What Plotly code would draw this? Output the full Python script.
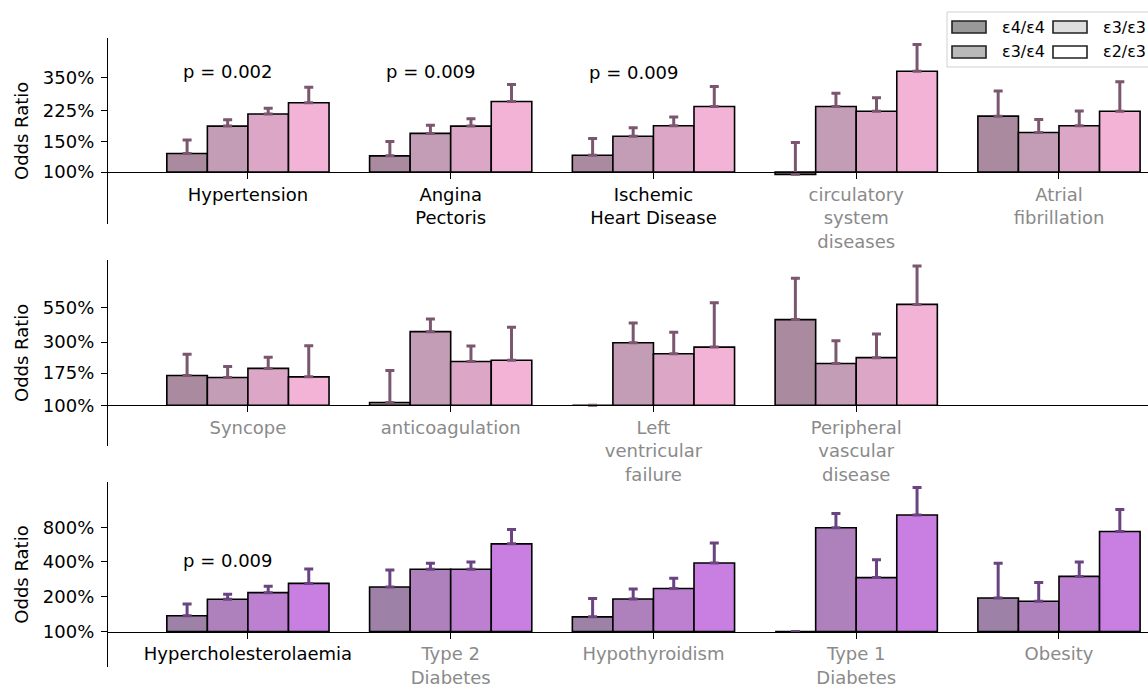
import numpy as np
import plotly.graph_objects as go

# ---------------- data ----------------
genotypes = ["ε4/ε4", "ε3/ε4", "ε3/ε3", "ε2/ε3"]

cats1 = ["Hypertension", "Angina<br>Pectoris", "Ischemic<br>Heart Disease",
         "circulatory<br>system<br>diseases", "Atrial<br>fibrillation"]
sig1 = [True, True, True, False, False]
or1 = {
    "ε4/ε4": [1.28, 1.24, 1.25, 0.97, 2.10],
    "ε3/ε4": [1.84, 1.67, 1.61, 2.39, 1.69],
    "ε3/ε3": [2.16, 1.84, 1.85, 2.24, 1.85],
    "ε2/ε3": [2.51, 2.55, 2.39, 3.81, 2.24],
}
up1 = {
    "ε4/ε4": [1.53, 1.50, 1.56, 1.48, 2.93],
    "ε3/ε4": [2.00, 1.86, 1.80, 2.85, 2.01],
    "ε3/ε3": [2.33, 2.03, 2.08, 2.68, 2.25],
    "ε2/ε3": [3.08, 3.20, 3.11, 5.44, 3.32],
}

cats2 = ["Syncope", "anticoagulation", "Left<br>ventricular<br>failure",
         "Peripheral<br>vascular<br>disease"]
sig2 = [False, False, False, False]
or2 = {
    "ε4/ε4": [1.68, 1.05, 1.00, 4.44],
    "ε3/ε4": [1.62, 3.60, 2.97, 2.07],
    "ε3/ε3": [1.90, 2.14, 2.45, 2.29],
    "ε2/ε3": [1.64, 2.19, 2.75, 5.78],
}
up2 = {
    "ε4/ε4": [2.43, 1.83, 1.00, 9.12],
    "ε3/ε4": [1.96, 4.49, 4.19, 3.07],
    "ε3/ε3": [2.31, 2.80, 3.56, 3.46],
    "ε2/ε3": [2.82, 3.88, 5.95, 11.3],
}

cats3 = ["Hypercholesterolaemia", "Type 2<br>Diabetes", "Hypothyroidism",
         "Type 1<br>Diabetes", "Obesity"]
sig3 = [True, False, False, False, False]
or3 = {
    "ε4/ε4": [1.37, 2.43, 1.34, 1.00, 1.95],
    "ε3/ε4": [1.90, 3.46, 1.91, 7.90, 1.83],
    "ε3/ε3": [2.17, 3.46, 2.36, 2.93, 3.00],
    "ε2/ε3": [2.61, 5.74, 3.92, 10.2, 7.34],
}
up3 = {
    "ε4/ε4": [1.73, 3.41, 1.93, 1.00, 3.90],
    "ε3/ε4": [2.10, 3.90, 2.33, 10.5, 2.66],
    "ε3/ε3": [2.46, 4.00, 2.89, 4.19, 4.00],
    "ε2/ε3": [3.48, 7.64, 5.85, 17.6, 11.4],
}

ticks1 = [100, 150, 225, 350]
ticks2 = [100, 175, 300, 550]
ticks3 = [100, 200, 400, 800]

p1_cats = [0, 1, 2]
p1_text = ["p = 0.002", "p = 0.009", "p = 0.009"]
p1_y = [3.82, 3.82, 3.73]
p3_cats = [0]
p3_text = ["p = 0.009"]
p3_y = [4.15]

# ---------------- style ----------------
W, H = 1148, 684
FONT = "DejaVu Sans"
pink = ["#a98a9e", "#c39db5", "#dca7c6", "#f2b3d7"]
purple = ["#9d81a7", "#ae81bd", "#bd80d0", "#c97ee2"]
err_pink = "#7a566f"
err_purple = "#6a4480"
legend_grays = ["#999999", "#b9b9b9", "#dedede", "#ffffff"]

X_LEFT = 107
xrange_ = [-0.695, 4.439]

panels = [
    dict(cats=cats1, sig=sig1, orv=or1, up=up1, ticks=ticks1, colors=pink, err=err_pink,
         top=37.7, bottom=224, yr=[-0.69, 1.784]),
    dict(cats=cats2, sig=sig2, orv=or2, up=up2, ticks=ticks2, colors=pink, err=err_pink,
         top=260, bottom=445.7, yr=[-0.703, 2.527]),
    dict(cats=cats3, sig=sig3, orv=or3, up=up3, ticks=ticks3, colors=purple, err=err_purple,
         top=482, bottom=667, yr=[-0.707, 2.98]),
]

fig = go.Figure()
layout = dict(
    width=W, height=H, margin=dict(l=0, r=0, t=0, b=0, autoexpand=False),
    paper_bgcolor="white", plot_bgcolor="white",
    barmode="group", bargap=0.2, bargroupgap=0,
    showlegend=False, font=dict(family=FONT, size=18, color="black"),
)
annotations = []
shapes = []

for i, p in enumerate(panels):
    suf = "" if i == 0 else str(i + 1)
    xa, ya = "x" + suf, "y" + suf
    n = len(p["cats"])
    xs = list(range(n))
    for g, gname in enumerate(genotypes):
        vals = np.log(np.array(p["orv"][gname]))
        ups = np.log(np.array(p["up"][gname])) - vals
        fig.add_trace(go.Bar(
            x=xs, y=vals, name=gname, offsetgroup=str(g),
            xaxis=xa, yaxis=ya,
            marker=dict(color=p["colors"][g], line=dict(color="black", width=1.6)),
            error_y=dict(type="data", symmetric=False, array=ups,
                         arrayminus=[0] * n, color=p["err"], thickness=3, width=4.5),
            showlegend=False, hoverinfo="skip",
        ))
    d0 = (H - p["bottom"]) / H
    d1 = (H - p["top"]) / H
    r0, r1 = p["yr"]
    pos0 = d0 + (0 - r0) / (r1 - r0) * (d1 - d0)
    ticktext = []
    for c, s in zip(p["cats"], p["sig"]):
        col = "#000000" if s else "#8a8a8a"
        ticktext.append(f'<span style="color:{col}">{c}</span>')
    layout["xaxis" + suf] = dict(
        domain=[X_LEFT / W, 1.0], range=xrange_, anchor="free", position=pos0,
        showline=True, linecolor="black", linewidth=1.3,
        tickmode="array", tickvals=xs, ticktext=ticktext,
        ticks="outside", ticklen=6, tickwidth=1.3, tickcolor="black",
        showgrid=False, zeroline=False, fixedrange=True, automargin=False,
        tickfont=dict(family=FONT, size=18), ticklabelstandoff=0,
    )
    layout["yaxis" + suf] = dict(
        domain=[d0, d1], range=p["yr"], anchor="free", position=X_LEFT / W,
        showline=True, linecolor="black", linewidth=1.3,
        tickmode="array", tickvals=[float(np.log(t / 100)) for t in p["ticks"]],
        ticktext=[f"{t}%" for t in p["ticks"]],
        ticks="outside", ticklen=6, tickwidth=1.3, tickcolor="black",
        showgrid=False, zeroline=False, fixedrange=True, automargin=False,
        tickfont=dict(family=FONT, size=18), ticklabelstandoff=3,
        title=dict(text="Odds Ratio", font=dict(family=FONT, size=18), standoff=8),
    )

for c, t, yv in zip(p1_cats, p1_text, p1_y):
    annotations.append(dict(x=c - 0.33, y=float(np.log(yv)), xref="x", yref="y", text=t,
                            showarrow=False, xanchor="left", yanchor="middle",
                            font=dict(family=FONT, size=18, color="black")))
for c, t, yv in zip(p3_cats, p3_text, p3_y):
    annotations.append(dict(x=c - 0.33, y=float(np.log(yv)), xref="x3", yref="y3", text=t,
                            showarrow=False, xanchor="left", yanchor="middle",
                            font=dict(family=FONT, size=18, color="black")))

# ---------------- manual legend ----------------
def px(x):
    return x / W

def py(y):
    return 1 - y / H

shapes.append(dict(type="rect", xref="paper", yref="paper",
                   x0=px(947), x1=px(1150), y0=py(67), y1=py(12),
                   line=dict(color="#d0d0d0", width=1), fillcolor="rgba(255,255,255,0.8)",
                   layer="above"))
leg_pos = [(952, 27), (952, 52), (1053, 27), (1053, 52)]
leg_order = ["ε4/ε4", "ε3/ε4", "ε3/ε3", "ε2/ε3"]
for (lx, ly), gname in zip(leg_pos, leg_order):
    gi = genotypes.index(gname)
    shapes.append(dict(type="rect", xref="paper", yref="paper",
                       x0=px(lx), x1=px(lx + 34), y0=py(ly + 6), y1=py(ly - 6),
                       line=dict(color="#222222", width=1.6), fillcolor=legend_grays[gi],
                       layer="above"))
    annotations.append(dict(x=px(lx + 48), y=py(ly), xref="paper", yref="paper",
                            text=gname, showarrow=False, xanchor="left", yanchor="middle",
                            font=dict(family=FONT, size=16, color="black")))

layout["annotations"] = annotations
layout["shapes"] = shapes
fig.update_layout(**layout)
fig.write_html("out.html", config={"displayModeBar": False},
               post_script="document.body.style.margin='0px';")
